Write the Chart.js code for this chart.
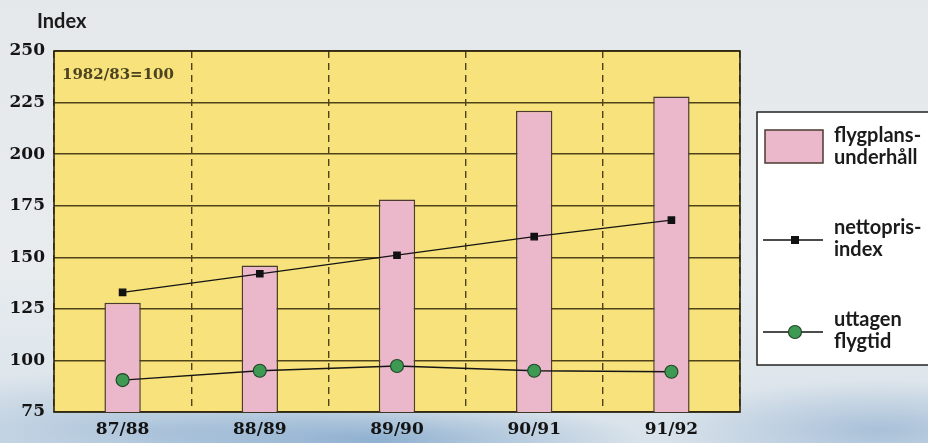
<!DOCTYPE html>
<html lang="sv">
<head>
<meta charset="UTF-8">
<title>Flygplansunderhåll index</title>
<script src="https://cdn.jsdelivr.net/npm/chart.js"></script>
<style>
  body {
    margin: 0;
    background:
      radial-gradient(ellipse 260px 40px at 380px 440px, rgba(90,140,190,0.55), rgba(90,140,190,0)),
      radial-gradient(ellipse 300px 60px at 150px 430px, rgba(120,160,200,0.45), rgba(120,160,200,0)),
      radial-gradient(ellipse 220px 50px at 880px 430px, rgba(110,150,195,0.45), rgba(110,150,195,0)),
      linear-gradient(#e4e8eb, #e8ecef 60%, #d8e2ea);
  }
  #wrap { width: 928px; height: 443px; position: relative; }
</style>
</head>
<body>
<div id="wrap"><canvas id="chart" width="928" height="443"></canvas></div>
<script>
// data
const seasons = ['87/88', '88/89', '89/90', '90/91', '91/92'];
const underhall = [128, 146, 178, 221, 228];
const nettoprisindex = [133, 142, 151, 160, 168];
const uttagenFlygtid = [90.5, 95, 97.3, 95, 94.5];
const yTicks = [75, 100, 125, 150, 175, 200, 225, 250];

const gridColor = '#4f4218';
const serif = 'DejaVu Serif';

// yellow plot background, frame, notes and the legend on the right
const decor = {
  id: 'decor',
  beforeDraw(chart) {
    const { ctx, chartArea: a } = chart;
    ctx.save();
    ctx.fillStyle = '#f7e27c';
    ctx.fillRect(a.left, a.top, a.right - a.left, a.bottom - a.top);
    ctx.restore();
  },
  beforeDatasetsDraw(chart) {
    const { ctx, chartArea: a } = chart;
    ctx.save();
    ctx.strokeStyle = '#2b2410';
    ctx.lineWidth = 1.6;
    ctx.strokeRect(a.left, a.top, a.right - a.left, a.bottom - a.top);
    ctx.restore();
  },
  afterDraw(chart) {
    const { ctx, chartArea: a } = chart;
    ctx.save();
    ctx.textBaseline = 'middle';
    ctx.fillStyle = '#1b1b1b';
    ctx.font = 'bold 20px Lato';
    ctx.fillText('Index', 37, 22);

    ctx.fillStyle = '#4c4420';
    ctx.font = 'bold 15px "' + serif + '"';
    ctx.fillText('1982/83=100', a.left + 8, 75);

    // legend box
    ctx.fillStyle = '#ffffff';
    ctx.fillRect(757, 112, 180, 253);
    ctx.strokeStyle = '#222';
    ctx.lineWidth = 1.5;
    ctx.strokeRect(757, 112, 180, 253);

    ctx.fillStyle = '#ebb8cb';
    ctx.fillRect(765, 130, 58, 33);
    ctx.strokeStyle = '#4a3a30';
    ctx.lineWidth = 1.5;
    ctx.strokeRect(765, 130, 58, 33);

    ctx.strokeStyle = '#111';
    ctx.lineWidth = 1.3;
    ctx.beginPath();
    ctx.moveTo(763, 240); ctx.lineTo(823, 240);
    ctx.moveTo(763, 332); ctx.lineTo(823, 332);
    ctx.stroke();
    ctx.fillStyle = '#111';
    ctx.fillRect(791, 236, 8, 8);
    ctx.beginPath();
    ctx.arc(795, 332, 6.5, 0, Math.PI * 2);
    ctx.fillStyle = '#3e9a52';
    ctx.fill();
    ctx.strokeStyle = '#24452a';
    ctx.lineWidth = 1.2;
    ctx.stroke();

    ctx.fillStyle = '#1b1b1b';
    ctx.font = 'bold 20px Lato';
    ctx.fillText('flygplans-', 834, 136);
    ctx.fillText('underhåll', 834, 158);
    ctx.fillText('nettopris-', 834, 228);
    ctx.fillText('index', 834, 250);
    ctx.fillText('uttagen', 834, 320);
    ctx.fillText('flygtid', 834, 342);
    ctx.restore();
  }
};

new Chart(document.getElementById('chart'), {
  data: {
    labels: seasons,
    datasets: [
      {
        type: 'line',
        label: 'nettoprisindex',
        data: nettoprisindex,
        borderColor: '#151515',
        borderWidth: 1.3,
        pointStyle: 'rect',
        pointRadius: 4.5,
        pointBackgroundColor: '#111',
        pointBorderColor: '#111',
        order: 1
      },
      {
        type: 'line',
        label: 'uttagen flygtid',
        data: uttagenFlygtid,
        borderColor: '#151515',
        borderWidth: 1.3,
        pointRadius: 6.5,
        pointBackgroundColor: '#3e9a52',
        pointBorderColor: '#24452a',
        pointBorderWidth: 1.2,
        order: 2
      },
      {
        type: 'bar',
        label: 'flygplansunderhåll',
        data: underhall,
        backgroundColor: '#ebb8cb',
        borderColor: '#4a3a30',
        borderWidth: 1.5,
        borderSkipped: 'bottom',
        barPercentage: 0.265,
        categoryPercentage: 1,
        order: 3
      }
    ]
  },
  options: {
    responsive: false,
    animation: false,
    layout: { padding: { top: 51, right: 188, left: 0, bottom: 0 } },
    plugins: {
      legend: { display: false },
      tooltip: { enabled: false }
    },
    scales: {
      x: {
        afterFit: s => { s.height = 31; },
        grid: { color: gridColor, lineWidth: 1.4, drawTicks: false, offset: true },
        border: { display: false, dash: [7, 5] },
        ticks: { color: '#141414', padding: 7, font: { family: serif, weight: 'bold', size: 17 } }
      },
      y: {
        min: 75,
        max: 250,
        afterFit: s => { s.width = 54; },
        afterBuildTicks: s => { s.ticks = yTicks.map(v => ({ value: v })); },
        grid: { color: gridColor, lineWidth: 1.5, drawTicks: false },
        border: { display: false },
        ticks: { color: '#141414', padding: 9, font: { family: serif, weight: 'bold', size: 17 } }
      }
    }
  },
  plugins: [decor]
});
</script>
</body>
</html>
